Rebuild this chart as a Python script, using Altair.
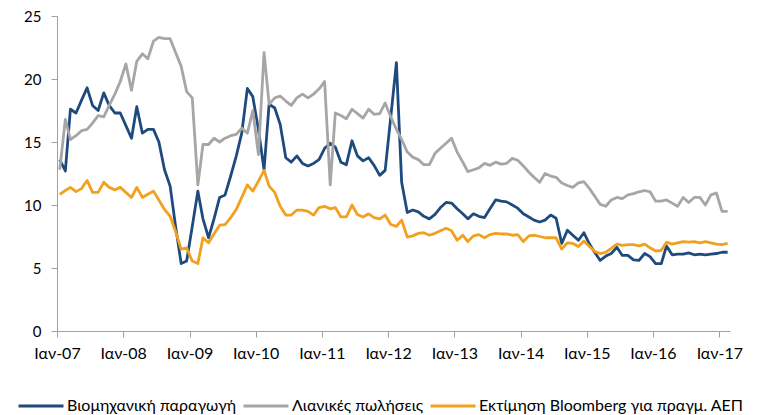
import altair as alt
import pandas as pd

# ---- data (monthly, Jan 2007 .. Feb 2017) ----
start = "2007-01-01"
n_months = 122

industrial = [13.6, 12.7, 17.6, 17.3, 18.3, 19.3, 17.9, 17.5, 18.9, 17.9, 17.3, 17.3,
              16.3, 15.3, 17.8, 15.7, 16.0, 16.0, 15.0, 12.8, 11.5, 8.3, 5.35, 5.55,
              8.3, 11.1, 8.9, 7.4, 8.9, 10.6, 10.8, 12.3, 13.9, 15.7, 19.25, 18.6,
              16.0, 12.8, 18.0, 17.7, 16.4, 13.75, 13.4, 13.9, 13.3, 13.1, 13.3, 13.6,
              14.5, 14.9, 14.6, 13.4, 13.2, 15.1, 13.9, 13.5, 13.75, 13.15, 12.35, 12.75,
              17.0, 21.3, 11.8, 9.4, 9.6, 9.45, 9.1, 8.9, 9.25, 9.8, 10.2, 10.15,
              9.7, 9.3, 8.9, 9.3, 9.1, 9.0, 9.7, 10.4, 10.3, 10.25, 10.0, 9.75,
              9.3, 9.05, 8.8, 8.65, 8.8, 9.2, 8.95, 6.95, 8.0, 7.6, 7.2, 7.8,
              6.9, 6.2, 5.6, 5.95, 6.15, 6.65, 6.0, 6.0, 5.65, 5.6, 6.15, 5.9,
              5.35, 5.35, 6.75, 6.05, 6.1, 6.1, 6.2, 6.05, 6.1, 6.05, 6.1, 6.15,
              6.25, 6.25]

retail = [12.8, 16.8, 15.2, 15.5, 15.9, 16.0, 16.5, 17.1, 17.0, 17.9, 18.8, 19.8,
          21.2, 19.1, 21.4, 22.0, 21.6, 23.0, 23.3, 23.2, 23.2, 22.1, 21.0, 19.0,
          18.5, 11.6, 14.8, 14.8, 15.3, 15.0, 15.3, 15.5, 15.6, 16.1, 15.7, 17.5,
          14.0, 22.1, 18.0, 18.5, 18.65, 18.25, 17.9, 18.5, 18.8, 18.5, 18.8, 19.2,
          19.8, 11.6, 17.3, 17.1, 16.85, 17.6, 17.25, 16.9, 17.6, 17.2, 17.25, 18.1,
          17.0, 16.0, 15.2, 14.2, 13.8, 13.6, 13.2, 13.2, 14.1, 14.5, 14.9, 15.3,
          14.2, 13.4, 12.65, 12.8, 12.95, 13.3, 13.15, 13.4, 13.25, 13.3, 13.7, 13.55,
          13.1, 12.6, 12.2, 11.8, 12.5, 12.3, 12.2, 11.75, 11.55, 11.4, 11.75, 11.85,
          11.3, 10.65, 10.05, 9.9, 10.4, 10.6, 10.5, 10.8, 10.9, 11.05, 11.15, 11.05,
          10.3, 10.3, 10.4, 10.15, 9.9, 10.6, 10.2, 10.6, 10.6, 10.0, 10.8, 10.95,
          9.5, 9.5]

gdp_bloomberg = [10.85, 11.15, 11.4, 11.06, 11.3, 11.95, 11.0, 11.0, 11.8, 11.4, 11.2, 11.4,
                 11.0, 10.6, 11.4, 10.6, 10.85, 11.1, 10.4, 9.65, 9.1, 7.9, 6.5, 6.6,
                 5.55, 5.35, 7.4, 7.0, 7.7, 8.4, 8.45, 9.0, 9.65, 10.6, 11.6, 11.1,
                 11.9, 12.75, 11.5, 11.0, 9.9, 9.2, 9.2, 9.6, 9.6, 9.5, 9.2, 9.8,
                 9.9, 9.7, 9.8, 9.05, 9.05, 10.0, 9.25, 9.05, 9.3, 9.0, 8.9, 9.2,
                 8.45, 8.3, 8.8, 7.45, 7.55, 7.75, 7.8, 7.6, 7.75, 7.95, 8.15, 7.95,
                 7.2, 7.6, 7.1, 7.55, 7.65, 7.4, 7.65, 7.75, 7.7, 7.7, 7.6, 7.65,
                 7.1, 7.55, 7.6, 7.5, 7.4, 7.4, 7.4, 6.5, 7.0, 6.95, 6.7, 7.15,
                 6.7, 6.3, 6.15, 6.25, 6.55, 6.9, 6.8, 6.85, 6.85, 6.75, 6.9, 6.6,
                 6.35, 6.4, 7.05, 6.9, 7.0, 7.1, 7.05, 7.1, 7.0, 7.1, 7.0, 6.9,
                 6.85, 6.95]

series_names = ["Βιομηχανική παραγωγή", "Λιανικές πωλήσεις",
                "Εκτίμηση Bloomberg για πραγμ. ΑΕΠ"]
series_colors = ["#1F4A7E", "#A6A6A6", "#F2A11E"]
y_ticks = [0, 5, 10, 15, 20, 25]
tick_years = list(range(2007, 2018))

# ---- build long table ----
dates = pd.date_range(start, periods=n_months, freq="MS") + pd.Timedelta(days=15)
date_str = [d.strftime("%Y-%m-%d") for d in dates]
rows = []
for name, vals in zip(series_names, [industrial, retail, gdp_bloomberg]):
    for d, v in zip(date_str, vals):
        rows.append({"date": d, "value": v, "series": name})
df = pd.DataFrame(rows)

FONT = "Lato"

x_dom = [alt.DateTime(year=2007, month=1, date=1, utc=True),
         alt.DateTime(year=2017, month=3, date=1, utc=True)]
x_vals = [alt.DateTime(year=y, month=1, date=1, utc=True) for y in tick_years]

chart = alt.Chart(df).mark_line(strokeWidth=2.8, strokeJoin="round").encode(
    x=alt.X("date:T",
            scale=alt.Scale(type="utc", domain=x_dom),
            axis=alt.Axis(values=x_vals, title=None, grid=False,
                          labelExpr="'Ιαν-' + utcFormat(datum.value, '%y')",
                          tickSize=6, labelPadding=8, labelFontSize=16,
                          labelFont=FONT, labelColor="#000000",
                          domainColor="#A0A0A0", tickColor="#A0A0A0",
                          labelFlush=False, labelOverlap=False)),
    y=alt.Y("value:Q",
            scale=alt.Scale(domain=[0, 25], nice=False),
            axis=alt.Axis(values=y_ticks, title=None, grid=False,
                          tickSize=6, labelPadding=10, labelFontSize=15,
                          labelFont=FONT, labelColor="#000000",
                          domainColor="#A0A0A0", tickColor="#A0A0A0")),
    color=alt.Color("series:N",
                    scale=alt.Scale(domain=series_names, range=series_colors),
                    sort=series_names,
                    legend=alt.Legend(title=None, orient="none",
                                      legendX=-40, legendY=366, padding=0,
                                      direction="horizontal",
                                      symbolType="stroke", symbolSize=2025,
                                      symbolStrokeWidth=3,
                                      labelFont=FONT, labelFontSize=16,
                                      labelColor="#000000", labelLimit=400,
                                      labelOffset=2, columnPadding=0)),
).properties(
    width=673, height=315,
    padding={"left": 49, "top": 8, "right": 23, "bottom": 89},
    autosize="none",
).configure_view(stroke=None)

chart.save("out.html", embed_options={"renderer": "svg", "actions": False})
